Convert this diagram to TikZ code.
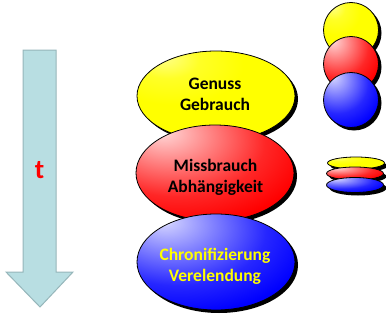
\documentclass[tikz,border=0pt]{standalone}
\usepackage{fontspec}
\setmainfont{Carlito}
\usetikzlibrary{shapes.geometric,shadows}
\definecolor{arrfill}{HTML}{B8DEE2}
\definecolor{arrline}{HTML}{96B6BA}
\definecolor{pyel}{HTML}{FFFF00}
\definecolor{pred}{HTML}{FF0000}
\definecolor{pblue}{HTML}{0000FF}
\pgfdeclareradialshading{yshade}{\pgfpoint{-17bp}{22bp}}{color(0bp)=(pyel!45!white); color(10bp)=(pyel!85!white); color(22bp)=(pyel); color(100bp)=(pyel)}
\pgfdeclareradialshading{rshade}{\pgfpoint{-17bp}{22bp}}{color(0bp)=(white); color(3bp)=(pred!22!white); color(14bp)=(pred!50!white); color(28bp)=(pred!85!white); color(40bp)=(pred); color(100bp)=(pred)}
\pgfdeclareradialshading{bshade}{\pgfpoint{-17bp}{22bp}}{color(0bp)=(white); color(3bp)=(pblue!22!white); color(14bp)=(pblue!50!white); color(28bp)=(pblue!85!white); color(40bp)=(pblue); color(100bp)=(pblue)}
\tikzset{
  blob/.style={ellipse, draw=black, line width=0.8pt, inner sep=0pt,
    drop shadow={shadow xshift=3pt, shadow yshift=-3pt, fill=black, opacity=1}},
  big/.style={blob, minimum width=158pt, minimum height=90pt},
  lbl/.style={font=\bfseries\fontsize{17.5}{21}\selectfont, align=center, inner sep=0pt},
  ball/.style={blob, minimum width=55pt, minimum height=55pt},
  disc/.style={blob, minimum width=57pt, minimum height=12pt},
}
\begin{document}
\begin{tikzpicture}[x=1pt,y=-1pt]
\useasboundingbox (0,0) rectangle (386,324);
% time arrow
\draw[fill=arrfill, draw=arrline, line width=1pt]
  (23,50) -- (56,50) -- (56,272) -- (73,272) -- (40,307) -- (6,272) -- (23,272) -- cycle;
\node[text=pred, font=\bfseries\fontsize{27}{30}\selectfont] (t) at (39.5,170) {t};
% big ellipses
\node[big, shading=yshade] (gen) at (216,96) {};
\node[lbl, text=black] (genT) at (215,94.5) {Genuss\\Gebrauch};
\node[big, shading=rshade, minimum height=96pt] (miss) at (215,173) {};
\node[lbl, text=black] (missT) at (215.5,177.5) {Missbrauch\\Abh\"angigkeit};
\node[big, shading=bshade, minimum height=96pt] (chr) at (216,262) {};
\node[lbl, text=pyel] (chrT) at (215,266) {Chronifizierung\\Verelendung};
% small spheres
\node[ball, shading=yshade] (ys) at (351,30) {};
\node[ball, shading=rshade] (rs) at (351,64) {};
\node[ball, shading=bshade] (bs) at (351,100) {};
% flat discs
\node[disc, shading=yshade] (yd) at (356,163) {};
\node[disc, shading=rshade, minimum height=13pt] (rd) at (355,173.5) {};
\node[disc, shading=bshade, minimum height=15pt] (bd) at (355,185) {};
\end{tikzpicture}
\end{document}
